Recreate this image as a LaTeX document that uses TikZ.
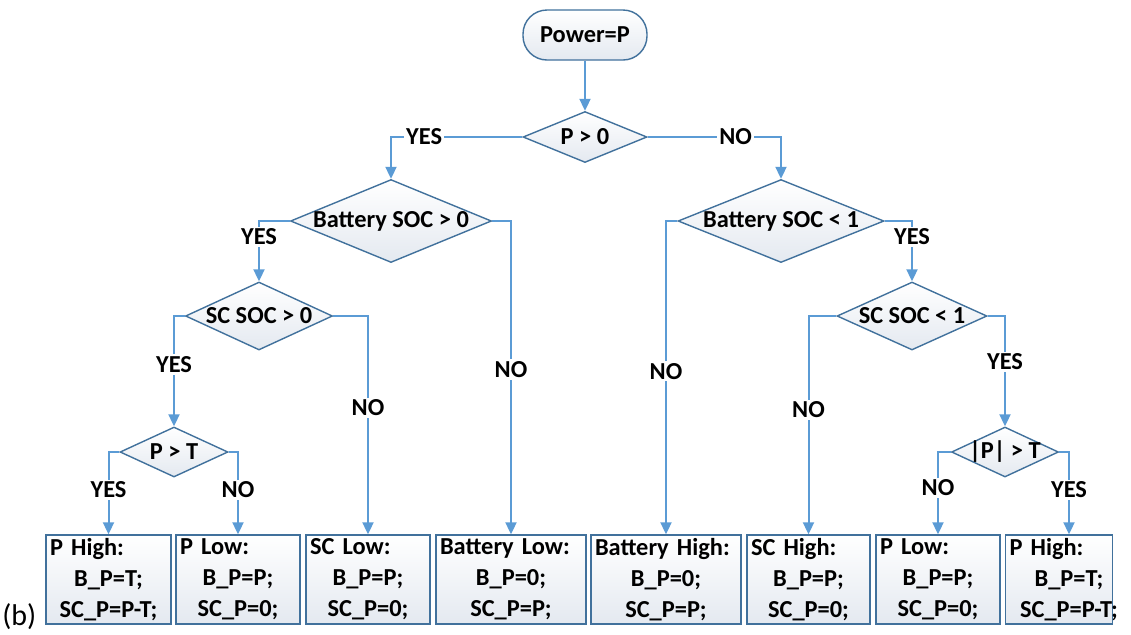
\documentclass[tikz,border=0pt]{standalone}
\usepackage{fontspec}
\setmainfont{Carlito}
\usepackage{tikz}
\usetikzlibrary{arrows.meta, shapes.geometric}
\definecolor{lineblue}{HTML}{5B9BD5}
\definecolor{edgeblue}{HTML}{41719C}
\definecolor{fillgray}{HTML}{E4E9F0}
\newcommand{\flowfont}{\fontsize{12.2}{15.5}\selectfont\bfseries}

\tikzset{
  flow/.style={draw=lineblue, line width=1pt, -{Triangle[length=6pt, width=5.5pt]}},
  startnode/.style={rectangle, rounded corners=12pt, draw=edgeblue, line width=0.7pt,
    top color=white, bottom color=fillgray, minimum width=62pt, minimum height=25pt,
    inner sep=0pt, font=\flowfont},
  decision/.style={diamond, draw=edgeblue, line width=0.7pt, top color=white,
    bottom color=fillgray, inner sep=-3pt, font=\flowfont},
  outbox/.style={rectangle, draw=edgeblue, line width=0.7pt, top color=white,
    bottom color=fillgray, minimum height=44.5pt, inner xsep=2pt, inner ysep=0pt,
    align=center, font=\flowfont},
  answer/.style={fill=white, inner sep=1pt, font=\flowfont},
}

\begin{document}
\begin{tikzpicture}[x=0.5pt, y=-0.5pt]
  \useasboundingbox (0,0) rectangle (1131,634);
  % --- Root ---
  \node[startnode] (start) at (585,35) {Power=P};
  \node[decision, aspect=2.43, minimum width=62pt, minimum height=25.5pt] (pcheck) at (585,137) {P > 0};
  \draw[flow] (start.south) -- (pcheck.north);
  % --- Left branch: P > 0 ---
  \node[decision, aspect=2.42, minimum width=100.5pt, minimum height=41.5pt] (batpos) at (391,221) {Battery SOC > 0};
  \node[decision, aspect=2.16, minimum width=73.5pt, minimum height=34pt] (scpos) at (259,316) {SC SOC > 0};
  \node[decision, aspect=2.16, minimum width=54pt, minimum height=25pt] (ptest) at (174,452) {P > T};
  % --- Right branch: P <= 0 ---
  \node[decision, aspect=2.48, minimum width=103pt, minimum height=41.5pt] (batneg) at (781,221) {Battery SOC < 1};
  \node[decision, aspect=2.2, minimum width=75pt, minimum height=34pt] (scneg) at (912,316) {SC SOC < 1};
  \node[decision, aspect=2.14, minimum width=53.5pt, minimum height=25pt] (pabs) at (1005,452) {|P| > T};
  % --- Outcomes ---
  \node[outbox, text width=58.5pt] (phighA) at (108.5,579.5) {P High:\hfill\mbox{}\\B\_P=T;\\SC\_P=P-T;};
  \node[outbox, text width=58pt] (plowA) at (238,579.5) {P Low:\hfill\mbox{}\\B\_P=P;\\SC\_P=0;};
  \node[outbox, text width=58pt] (sclow) at (368,579.5) {SC Low:\hfill\mbox{}\\B\_P=P;\\SC\_P=0;};
  \node[outbox, text width=71pt] (batlow) at (511,579.5) {Battery Low:\hfill\mbox{}\\B\_P=0;\\SC\_P=P;};
  \node[outbox, text width=71pt] (bathigh) at (666,579.5) {Battery High:\hfill\mbox{}\\B\_P=0;\\SC\_P=P;};
  \node[outbox, text width=57.5pt] (schigh) at (808.5,579.5) {SC High:\hfill\mbox{}\\B\_P=P;\\SC\_P=0;};
  \node[outbox, text width=58pt] (plowB) at (938,579.5) {P Low:\hfill\mbox{}\\B\_P=P;\\SC\_P=0;};
  \node[outbox, text width=49.5pt] (phighB) at (1059,579.5) {P High:\hfill\mbox{}\\\makebox[0pt]{\hspace{10pt}B\_P=T;}\\\makebox[0pt]{\hspace{10pt}SC\_P=P-T;}};
  \node[font=\fontsize{15}{17}\selectfont, inner sep=0pt, anchor=base west] (tag) at (2,625) {(b)};
  % --- Connectors ---
  \draw[flow] (pcheck.west) -| node[answer, pos=0.374] {YES} (batpos.north);
  \draw[flow] (pcheck.east) -| node[answer, pos=0.33] {NO} (batneg.north);
  \draw[flow] (batpos.west) -| node[answer, pos=0.63] {YES} (scpos.north);
  \draw[flow] (batpos.east) -| node[answer, pos=0.737] {NO} (batlow.north);
  \draw[flow] (scpos.west) -| node[answer, pos=0.72] {YES} (ptest.north);
  \draw[flow] (scpos.east) -| node[answer, pos=0.71] {NO} (sclow.north);
  \draw[flow] (ptest.west) -| node[answer, pos=0.73] {YES} (phighA.north);
  \draw[flow] (ptest.east) -| node[answer, pos=0.73] {NO} (plowA.north);
  \draw[flow] (batneg.west) -| node[answer, pos=0.74] {NO} (bathigh.north);
  \draw[flow] (batneg.east) -| node[answer, pos=0.63] {YES} (scneg.north);
  \draw[flow] (scneg.west) -| node[answer, pos=0.715] {NO} (schigh.north);
  \draw[flow] (scneg.east) -| node[answer, pos=0.707] {YES} (pabs.north);
  \draw[flow] (pabs.west) -| node[answer, pos=0.717] {NO} (plowB.north);
  \draw[flow] (pabs.east) -| node[answer, pos=0.73] {YES} ([xshift=5pt]phighB.north);
\end{tikzpicture}
\end{document}
